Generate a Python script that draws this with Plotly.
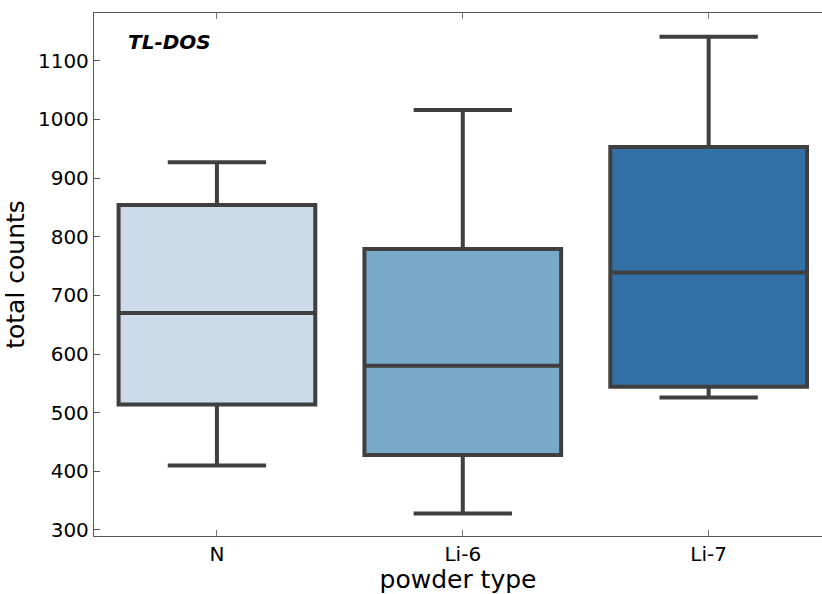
import plotly.graph_objects as go

categories = ["N", "Li-6", "Li-7"]
lower_whisker = [410, 328, 526]
q1 = [514, 428, 544]
median = [670, 580, 739]
q3 = [854, 779, 953]
upper_whisker = [927, 1016, 1141]
fill_colors = ["#cbdbea", "#78a9c8", "#3370a5"]
y_ticks = [300, 400, 500, 600, 700, 800, 900, 1000, 1100]

fig = go.Figure()
for i, cat in enumerate(categories):
    fig.add_trace(go.Box(
        x=[cat],
        q1=[q1[i]], median=[median[i]], q3=[q3[i]],
        lowerfence=[lower_whisker[i]], upperfence=[upper_whisker[i]],
        fillcolor=fill_colors[i],
        line=dict(color="#3f3f3f", width=4),
        width=0.8,
        whiskerwidth=0.5,
        boxpoints=False,
        showlegend=False,
        hoverinfo="skip",
    ))

font = "DejaVu Sans, sans-serif"
fig.update_layout(
    width=822, height=594,
    margin=dict(l=93.5, r=0, t=13, b=58),
    plot_bgcolor="white", paper_bgcolor="white",
    font=dict(family=font, color="black"),
    xaxis=dict(
        type="category",
        categoryorder="array", categoryarray=categories,
        range=[-0.5, 2.461],
        showline=True, linecolor="#555555", linewidth=1.3,
        mirror="ticks",
        ticks="inside", ticklen=6, tickcolor="#777777", tickwidth=1.3,
        tickfont=dict(size=20, family=font),
        showgrid=False, zeroline=False,
        title=dict(text="powder type", font=dict(size=25, family=font), standoff=6),
    ),
    yaxis=dict(
        range=[289.7, 1181.5],
        tickvals=y_ticks,
        showline=True, linecolor="#555555", linewidth=1.3,
        ticks="inside", ticklen=6, tickcolor="#555555", tickwidth=1.3,
        tickfont=dict(size=20, family=font),
        showgrid=False, zeroline=False,
        title=dict(text="total counts", font=dict(size=25, family=font), standoff=6),
    ),
    annotations=[dict(
        text="<b><i>TL-DOS</i></b>", xref="paper", yref="paper",
        x=0.044, y=0.9446, xanchor="left", yanchor="middle",
        showarrow=False, font=dict(size=20, family=font, color="black"),
    )],
)

fig.write_html("out.html")
